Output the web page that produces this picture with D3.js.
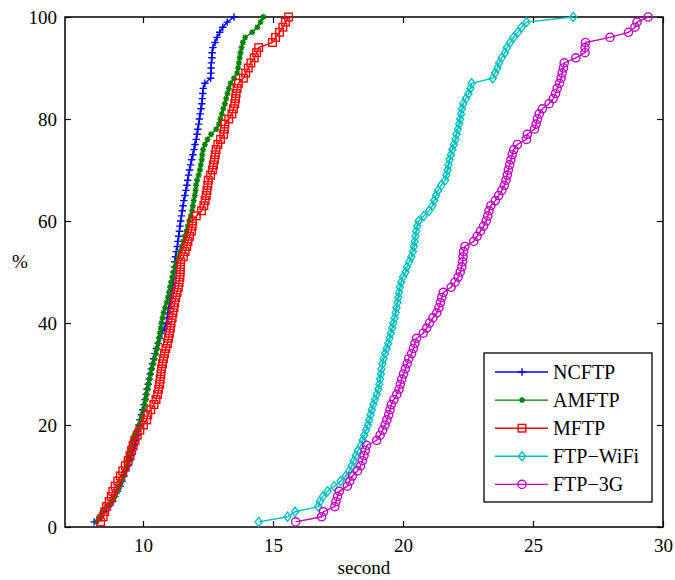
<!DOCTYPE html>
<html>
<head>
<meta charset="utf-8">
<script src="https://cdn.jsdelivr.net/npm/d3@7"></script>
<style>
  html, body { margin: 0; padding: 0; background: #fff; }
  svg { display: block; }
  text { font-family: "Liberation Serif", "Times New Roman", serif; fill: #000; }
</style>
</head>
<body>
<svg id="chart" width="675" height="580"></svg>
<script>
// ---- Data (seconds at each percentile 1..100) ----
const seriesNames = ["NCFTP", "AMFTP", "MFTP", "FTP\u2212WiFi", "FTP\u22123G"];
const percentiles = [1,2,3,4,5,6,7,8,9,10,11,12,13,14,15,16,17,18,19,20,21,22,23,24,25,26,27,28,29,30,31,32,33,34,35,36,37,38,39,40,41,42,43,44,45,46,47,48,49,50,51,52,53,54,55,56,57,58,59,60,61,62,63,64,65,66,67,68,69,70,71,72,73,74,75,76,77,78,79,80,81,82,83,84,85,86,87,88,89,90,91,92,93,94,95,96,97,98,99,100];

const ncftp = [8.12,8.35,8.5,8.68,8.83,8.92,9.02,9.12,9.2,9.27,9.35,9.42,9.49,9.55,9.61,9.67,9.72,9.77,9.8,9.85,
  9.88,9.94,9.99,10.04,10.08,10.12,10.16,10.2,10.24,10.28,10.32,10.37,10.41,10.46,10.52,10.58,10.65,10.72,10.82,10.9,
  10.93,10.96,10.99,11.02,11.05,11.09,11.12,11.16,11.18,11.19,11.21,11.22,11.25,11.28,11.32,11.34,11.37,11.4,11.42,11.45,
  11.48,11.51,11.54,11.57,11.61,11.65,11.69,11.72,11.75,11.79,11.83,11.87,11.92,11.96,12.0,12.05,12.08,12.11,12.14,12.17,
  12.2,12.23,12.26,12.28,12.3,12.32,12.38,12.6,12.61,12.62,12.63,12.65,12.66,12.69,12.77,12.85,12.95,13.07,13.24,13.5];

const amftp = [8.22,8.32,8.44,8.6,8.8,8.92,9.02,9.1,9.18,9.25,9.31,9.37,9.42,9.47,9.52,9.56,9.6,9.68,9.78,9.86,
  9.92,9.97,10.02,10.06,10.1,10.13,10.17,10.21,10.25,10.29,10.34,10.39,10.44,10.5,10.54,10.58,10.62,10.65,10.68,10.71,
  10.75,10.79,10.85,10.91,10.96,11.0,11.04,11.08,11.13,11.18,11.23,11.28,11.35,11.42,11.49,11.55,11.61,11.67,11.72,11.78,
  11.84,11.89,11.92,11.95,11.99,12.02,12.04,12.08,12.14,12.19,12.22,12.26,12.28,12.31,12.38,12.48,12.62,12.82,12.92,12.98,
  13.03,13.09,13.15,13.2,13.25,13.3,13.37,13.5,13.62,13.66,13.69,13.72,13.75,13.79,13.84,13.93,14.2,14.4,14.52,14.63];

const mftp = [8.37,8.47,8.53,8.6,8.7,8.78,8.84,8.93,9.03,9.13,9.22,9.32,9.43,9.5,9.56,9.62,9.69,9.78,9.88,10.02,
  10.14,10.18,10.3,10.42,10.5,10.56,10.6,10.64,10.66,10.69,10.71,10.75,10.79,10.83,10.88,10.94,10.98,11.02,11.05,11.08,
  11.12,11.15,11.19,11.22,11.26,11.31,11.36,11.39,11.42,11.43,11.44,11.45,11.55,11.62,11.68,11.73,11.79,11.86,11.89,11.91,
  12.05,12.25,12.34,12.39,12.43,12.46,12.49,12.51,12.6,12.67,12.71,12.75,12.78,12.81,12.88,12.98,13.1,13.13,13.15,13.3,
  13.42,13.48,13.53,13.56,13.58,13.62,13.67,13.86,13.95,14.05,14.15,14.28,14.37,14.45,14.98,15.1,15.25,15.38,15.48,15.6];

const ftpWifi = [14.45,15.56,15.85,16.74,16.8,16.92,17.1,17.35,17.6,17.8,17.93,18.03,18.1,18.18,18.27,18.38,18.45,18.51,18.58,18.65,
  18.7,18.75,18.8,18.86,18.92,18.99,19.05,19.09,19.12,19.15,19.17,19.21,19.25,19.31,19.37,19.43,19.48,19.53,19.58,19.63,
  19.68,19.72,19.75,19.79,19.82,19.85,19.88,19.93,20.0,20.1,20.15,20.24,20.32,20.38,20.42,20.45,20.48,20.51,20.55,20.6,
  20.8,21.0,21.13,21.2,21.27,21.35,21.47,21.62,21.67,21.72,21.75,21.79,21.84,21.9,21.96,22.02,22.06,22.11,22.16,22.2,
  22.23,22.27,22.32,22.42,22.52,22.59,22.64,23.45,23.54,23.63,23.7,23.8,23.92,24.0,24.12,24.25,24.42,24.56,24.75,26.55];

const ftp3g = [15.87,16.87,16.94,17.38,17.42,17.48,17.55,17.86,17.95,18.05,18.25,18.37,18.44,18.5,18.55,18.6,18.99,19.12,19.22,19.31,
  19.38,19.45,19.5,19.55,19.65,19.76,19.85,19.9,19.95,20.02,20.09,20.16,20.22,20.33,20.4,20.46,20.52,20.78,20.91,21.02,
  21.15,21.3,21.38,21.44,21.49,21.55,21.85,22.0,22.12,22.2,22.26,22.29,22.31,22.33,22.38,22.72,22.85,22.98,23.1,23.2,
  23.26,23.31,23.38,23.55,23.68,23.8,23.9,23.96,24.01,24.05,24.1,24.15,24.2,24.26,24.4,24.75,24.78,25.06,25.12,25.17,
  25.24,25.36,25.62,25.78,25.87,25.93,26.02,26.08,26.12,26.17,26.2,26.65,27.0,27.0,27.02,27.96,28.67,28.92,29.0,29.43];

const xTicks = [10, 15, 20, 25, 30];
const yTicks = [0, 20, 40, 60, 80, 100];
const xLabel = "second";
const yLabel = "%";

// ---- Styles ----
const colors = ["#0000ff", "#008000", "#ff0000", "#00bfbf", "#bf00bf"];
const markers = ["plus", "star", "square", "diamond", "circle"];
const seriesValues = [ncftp, amftp, mftp, ftpWifi, ftp3g];

const svg = d3.select("#chart");
const mLeft = 65, mRight = 663, mTop = 17, mBottom = 527;

const x = d3.scaleLinear().domain([7, 30]).range([mLeft, mRight]);
const y = d3.scaleLinear().domain([0, 100]).range([mBottom, mTop]);

// Axes
const fontSize = 19;
const gx = svg.append("g").attr("transform", `translate(0,${mBottom})`)
  .call(d3.axisBottom(x).tickValues(xTicks).tickSizeInner(-6).tickSizeOuter(0).tickPadding(12));
const gy = svg.append("g").attr("transform", `translate(${mLeft},0)`)
  .call(d3.axisLeft(y).tickValues(yTicks).tickSizeInner(-6).tickSizeOuter(0).tickPadding(8));
const gxt = svg.append("g").attr("transform", `translate(0,${mTop})`)
  .call(d3.axisTop(x).tickValues(xTicks).tickSizeInner(-6).tickSizeOuter(0).tickFormat(""));
const gyr = svg.append("g").attr("transform", `translate(${mRight},0)`)
  .call(d3.axisRight(y).tickValues(yTicks).tickSizeInner(-6).tickSizeOuter(0).tickFormat(""));
[gx, gy, gxt, gyr].forEach(g => {
  g.select(".domain").remove();
  g.selectAll(".tick line").attr("stroke", "#000").attr("stroke-width", 1.2);
  g.selectAll(".tick text").style("font-family", '"Liberation Serif", serif').style("font-size", fontSize + "px").attr("fill", "#000");
});

// Frame
svg.append("rect").attr("x", mLeft).attr("y", mTop).attr("width", mRight - mLeft).attr("height", mBottom - mTop)
  .attr("fill", "none").attr("stroke", "#000").attr("stroke-width", 1.5);

// Axis labels
svg.append("text").attr("x", (mLeft + mRight) / 2).attr("y", 574).attr("text-anchor", "middle")
  .style("font-size", "19px").text(xLabel);
svg.append("text").attr("x", 20).attr("y", 268).attr("text-anchor", "middle")
  .style("font-size", "19px").text(yLabel);

// Marker drawing
const sw = 1.4;
function drawMarker(g, type, cx, cy, color) {
  if (type === "plus") {
    const s = 3.7;
    g.append("path").attr("d", `M${cx - s},${cy}H${cx + s}M${cx},${cy - s}V${cy + s}`)
      .attr("stroke", color).attr("stroke-width", sw).attr("fill", "none");
  } else if (type === "star") {
    const s = 3, d = 2.2;
    g.append("path").attr("d",
      `M${cx - s},${cy}H${cx + s}M${cx},${cy - s}V${cy + s}M${cx - d},${cy - d}L${cx + d},${cy + d}M${cx - d},${cy + d}L${cx + d},${cy - d}`)
      .attr("stroke", color).attr("stroke-width", sw).attr("fill", "none");
  } else if (type === "square") {
    const s = 3.8;
    g.append("rect").attr("x", cx - s).attr("y", cy - s).attr("width", 2 * s).attr("height", 2 * s)
      .attr("stroke", color).attr("stroke-width", sw).attr("fill", "none");
  } else if (type === "diamond") {
    const w = 3.5, h = 4.6;
    g.append("path").attr("d", `M${cx},${cy - h}L${cx + w},${cy}L${cx},${cy + h}L${cx - w},${cy}Z`)
      .attr("stroke", color).attr("stroke-width", sw).attr("fill", "none");
  } else if (type === "circle") {
    g.append("circle").attr("cx", cx).attr("cy", cy).attr("r", 4.1)
      .attr("stroke", color).attr("stroke-width", sw).attr("fill", "none");
  }
}

// Series
const line = d3.line().x(d => x(d[0])).y(d => y(d[1]));
seriesValues.forEach((vals, i) => {
  const pts = vals.map((v, j) => [v, percentiles[j]]);
  const g = svg.append("g");
  g.append("path").datum(pts).attr("d", line).attr("fill", "none")
    .attr("stroke", colors[i]).attr("stroke-width", 1.4);
  pts.forEach(p => drawMarker(g, markers[i], x(p[0]), y(p[1]), colors[i]));
});

// Legend
const lg = svg.append("g");
lg.append("rect").attr("x", 484).attr("y", 353).attr("width", 168).attr("height", 149)
  .attr("fill", "#fff").attr("stroke", "#000").attr("stroke-width", 1.3);
seriesNames.forEach((name, i) => {
  const ly = 372 + i * 28.1;
  lg.append("line").attr("x1", 495).attr("x2", 548).attr("y1", ly).attr("y2", ly)
    .attr("stroke", colors[i]).attr("stroke-width", 1.4);
  drawMarker(lg, markers[i], 522, ly, colors[i]);
  lg.append("text").attr("x", 553).attr("y", ly + 7).style("font-size", "20px").text(name);
});
</script>
</body>
</html>
